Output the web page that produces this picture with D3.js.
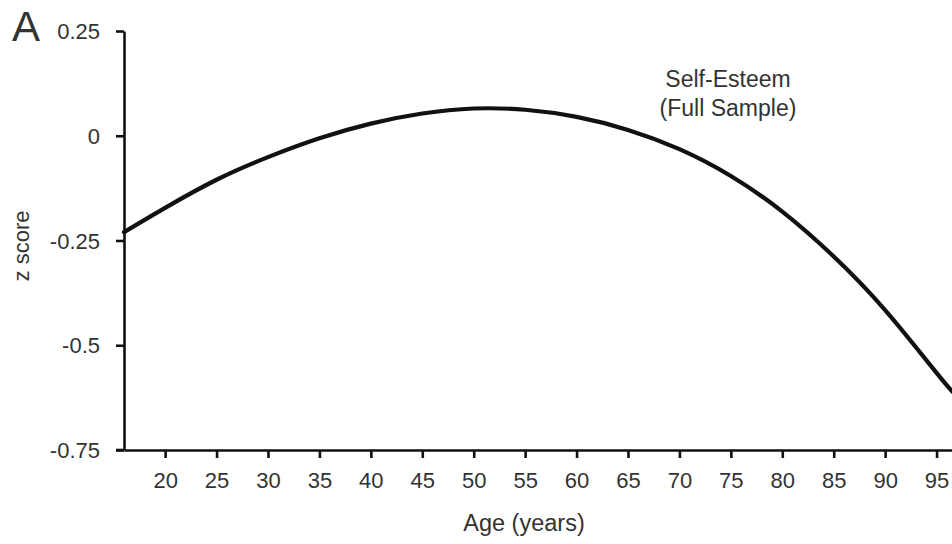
<!DOCTYPE html>
<html>
<head>
<meta charset="utf-8">
<script src="https://cdn.jsdelivr.net/npm/d3@7"></script>
<style>
  body { margin: 0; background: #fff; }
  text { font-family: "Liberation Sans", Arial, sans-serif; fill: #333; }
</style>
</head>
<body>
<svg id="chart" width="952" height="544"></svg>
<script>
// valori
const ages = [16, 20, 25, 30, 35, 40, 45, 50, 55, 60, 65, 70, 75, 80, 85, 90, 95, 96.6];
const zScores = [-0.23, -0.172, -0.105, -0.051, -0.006, 0.029, 0.053, 0.065, 0.062, 0.045, 0.014, -0.032, -0.096, -0.181, -0.288, -0.416, -0.566, -0.612];
const xTicks = [20, 25, 30, 35, 40, 45, 50, 55, 60, 65, 70, 75, 80, 85, 90, 95];
const yTicks = [0.25, 0, -0.25, -0.5, -0.75];
const yTickLabels = ["0.25", "0", "-0.25", "-0.5", "-0.75"];

const svg = d3.select("#chart");

// scale
const x = d3.scaleLinear().domain([16, 100]).range([124, 988]);
const y = d3.scaleLinear().domain([-0.75, 0.25]).range([450, 31]);

// asse y
const yAxis = d3.axisLeft(y)
    .tickValues(yTicks)
    .tickFormat((d, i) => yTickLabels[i])
    .tickSize(8)
    .tickSizeOuter(0)
    .tickPadding(16);

const gy = svg.append("g")
    .attr("transform", "translate(124,0)")
    .call(yAxis);

// asse x
const xAxis = d3.axisBottom(x)
    .tickValues(xTicks)
    .tickFormat(d3.format("d"))
    .tickSize(8)
    .tickSizeOuter(0)
    .tickPadding(14);

const gx = svg.append("g")
    .attr("transform", "translate(0,450)")
    .call(xAxis);

[gx, gy].forEach(g => {
    g.selectAll("path.domain").attr("stroke", "#111").attr("stroke-width", 2.6);
    g.selectAll(".tick line").attr("stroke", "#111").attr("stroke-width", 2.6);
    g.selectAll(".tick text")
        .style("font-family", "Liberation Sans, Arial, sans-serif")
        .style("font-size", "22px")
        .attr("fill", "#333");
});
gy.selectAll(".tick text").attr("dy", "0.35em");

// prolunga l'asse x fino a sinistra del tick -0.75
svg.append("line")
    .attr("x1", 116).attr("x2", 124)
    .attr("y1", 450).attr("y2", 450)
    .attr("stroke", "#111").attr("stroke-width", 2.6);

// curva
const data = ages.map((a, i) => ({ age: a, z: zScores[i] }));
const line = d3.line()
    .x(d => x(d.age))
    .y(d => y(d.z))
    .curve(d3.curveNatural);

svg.append("path")
    .datum(data)
    .attr("d", line)
    .attr("fill", "none")
    .attr("stroke", "#111")
    .attr("stroke-width", 4.2)
    .attr("stroke-linecap", "round");

// etichette
svg.append("text")
    .attr("x", 12).attr("y", 41)
    .style("font-size", "42px")
    .text("A");

svg.append("text")
    .attr("x", 524).attr("y", 531)
    .attr("text-anchor", "middle")
    .style("font-size", "23.5px")
    .text("Age (years)");

svg.append("text")
    .attr("transform", "translate(29,246) rotate(-90)")
    .attr("text-anchor", "middle")
    .style("font-size", "22px")
    .text("z score");

svg.append("text")
    .attr("x", 728).attr("y", 87)
    .attr("text-anchor", "middle")
    .style("font-size", "23px")
    .text("Self-Esteem");

svg.append("text")
    .attr("x", 728).attr("y", 116)
    .attr("text-anchor", "middle")
    .style("font-size", "23px")
    .text("(Full Sample)");
</script>
</body>
</html>
